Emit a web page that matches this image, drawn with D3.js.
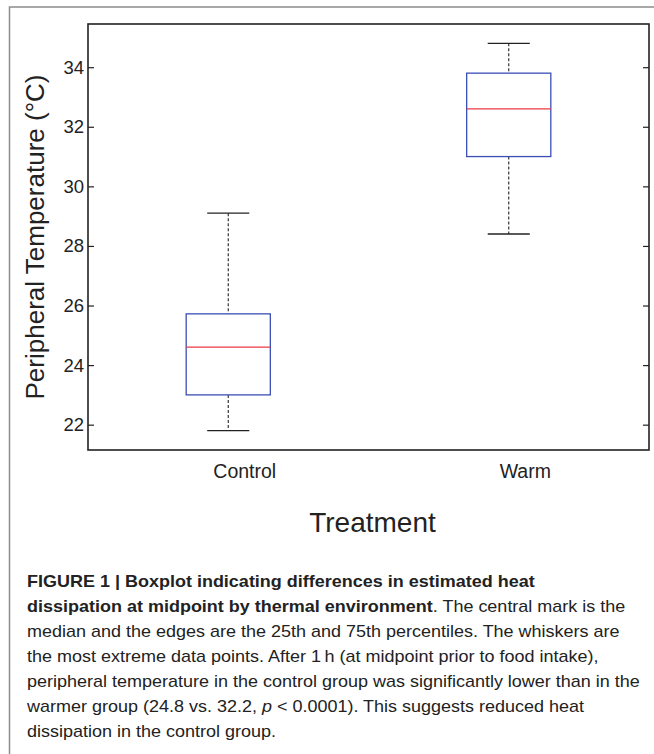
<!DOCTYPE html>
<html>
<head>
<meta charset="utf-8">
<script src="https://cdn.jsdelivr.net/npm/d3@7"></script>
<style>
  body { margin: 0; background: #fff; }
  svg text { fill: #222; }
</style>
</head>
<body>
<div id="chart"></div>
<script>
// box plot values
const groups = ["Control", "Warm"];
const lowerWhisker = [21.8, 28.4];
const q1 = [23.0, 31.0];
const median = [24.6, 32.6];
const q3 = [25.72, 33.8];
const upperWhisker = [29.1, 34.8];
const yTicks = [22, 24, 26, 28, 30, 32, 34];
const yDomain = [21.15, 35.45];

const captionLines = [
  [{t: "FIGURE 1 | Boxplot indicating differences in estimated heat", w: "bold"}],
  [{t: "dissipation at midpoint by thermal environment", w: "bold"}, {t: ". The central mark is the"}],
  [{t: "median and the edges are the 25th and 75th percentiles. The whiskers are"}],
  [{t: "the most extreme data points. After 1\u2009h (at midpoint prior to food intake),"}],
  [{t: "peripheral temperature in the control group was significantly lower than in the"}],
  [{t: "warmer group (24.8 vs. 32.2, "}, {t: "p", s: "italic"}, {t: " < 0.0001). This suggests reduced heat"}],
  [{t: "dissipation in the control group."}]
];

const width = 654, height = 754;
const plot = {left: 88, right: 649, top: 24, bottom: 450};

const svg = d3.select("#chart").append("svg")
  .attr("width", width)
  .attr("height", height)
  .style("font-family", "'Liberation Sans', Arial, sans-serif");

// figure frame (only top and left edges show)
svg.append("path")
  .attr("d", `M9.5,${height} V7 H${width}`)
  .attr("fill", "none")
  .attr("stroke", "#8c8c8c")
  .attr("stroke-width", 1.5);

const x = d3.scalePoint().domain(groups).range([plot.left, plot.right]).padding(0.5);
const y = d3.scaleLinear().domain(yDomain).range([plot.bottom, plot.top]);
const step = x.step();
const boxW = step * 0.3, capW = step * 0.15;

// y axes, ticks point inward on both sides
const yAxisL = svg.append("g")
  .attr("transform", `translate(${plot.left},0)`)
  .call(d3.axisLeft(y).tickValues(yTicks).tickSizeInner(-6).tickSizeOuter(0).tickPadding(4));
const yAxisR = svg.append("g")
  .attr("transform", `translate(${plot.right},0)`)
  .call(d3.axisRight(y).tickValues(yTicks).tickSizeInner(-6).tickSizeOuter(0).tickFormat(""));
[yAxisL, yAxisR].forEach(g => {
  g.select(".domain").remove();
  g.selectAll(".tick line").attr("stroke", "#222").attr("stroke-width", 1.2);
});
yAxisL.selectAll(".tick text")
  .attr("font-size", 18.5)
  .attr("fill", "#222")
  .attr("font-family", "'Liberation Sans', Arial, sans-serif");

// x labels (shifted right as in the original)
const xAxis = svg.append("g")
  .attr("transform", `translate(0,${plot.bottom})`)
  .call(d3.axisBottom(x).tickSize(0).tickPadding(14));
xAxis.select(".domain").remove();
xAxis.selectAll(".tick text")
  .attr("dx", 16)
  .attr("font-size", 19.5)
  .attr("fill", "#222")
  .attr("font-family", "'Liberation Sans', Arial, sans-serif");

// plot frame
svg.append("rect")
  .attr("x", plot.left).attr("y", plot.top)
  .attr("width", plot.right - plot.left)
  .attr("height", plot.bottom - plot.top)
  .attr("fill", "none")
  .attr("stroke", "#222")
  .attr("stroke-width", 1.6);

// boxes
const boxes = svg.selectAll(".box")
  .data(groups)
  .enter().append("g")
  .attr("class", "box");

boxes.append("line") // upper whisker
  .attr("x1", d => x(d)).attr("x2", d => x(d))
  .attr("y1", (d, i) => y(upperWhisker[i])).attr("y2", (d, i) => y(q3[i]))
  .attr("stroke", "#222").attr("stroke-width", 1.1).attr("stroke-dasharray", "3,2");
boxes.append("line") // lower whisker
  .attr("x1", d => x(d)).attr("x2", d => x(d))
  .attr("y1", (d, i) => y(q1[i])).attr("y2", (d, i) => y(lowerWhisker[i]))
  .attr("stroke", "#222").attr("stroke-width", 1.1).attr("stroke-dasharray", "3,2");
boxes.append("line") // top cap
  .attr("x1", d => x(d) - capW / 2).attr("x2", d => x(d) + capW / 2)
  .attr("y1", (d, i) => y(upperWhisker[i])).attr("y2", (d, i) => y(upperWhisker[i]))
  .attr("stroke", "#222").attr("stroke-width", 1.3);
boxes.append("line") // bottom cap
  .attr("x1", d => x(d) - capW / 2).attr("x2", d => x(d) + capW / 2)
  .attr("y1", (d, i) => y(lowerWhisker[i])).attr("y2", (d, i) => y(lowerWhisker[i]))
  .attr("stroke", "#222").attr("stroke-width", 1.3);
boxes.append("rect")
  .attr("x", d => x(d) - boxW / 2)
  .attr("width", boxW)
  .attr("y", (d, i) => y(q3[i]))
  .attr("height", (d, i) => y(q1[i]) - y(q3[i]))
  .attr("fill", "none")
  .attr("stroke", "#3a4fb5")
  .attr("stroke-width", 1.3);
boxes.append("line") // median
  .attr("x1", d => x(d) - boxW / 2).attr("x2", d => x(d) + boxW / 2)
  .attr("y1", (d, i) => y(median[i])).attr("y2", (d, i) => y(median[i]))
  .attr("stroke", "#ec3a44").attr("stroke-width", 1.3);

// axis titles
svg.append("text")
  .attr("transform", `translate(44,${(plot.top + plot.bottom) / 2}) rotate(-90)`)
  .attr("text-anchor", "middle")
  .attr("font-size", 26)
  .text("Peripheral Temperature (\u00B0C)");

svg.append("text")
  .attr("x", (plot.left + plot.right) / 2 + 4)
  .attr("y", 532)
  .attr("text-anchor", "middle")
  .attr("font-size", 28)
  .text("Treatment");

// caption - the original typeface runs wider, so stretch a little
const cap = svg.append("g")
  .attr("font-size", 16)
  .attr("transform", "translate(27,0) scale(1.125,1)");
captionLines.forEach((parts, i) => {
  const t = cap.append("text").attr("x", 0).attr("y", 587 + i * 25);
  parts.forEach(p => {
    t.append("tspan")
      .attr("font-weight", p.w || "normal")
      .attr("font-style", p.s || "normal")
      .text(p.t);
  });
});
</script>
</body>
</html>
